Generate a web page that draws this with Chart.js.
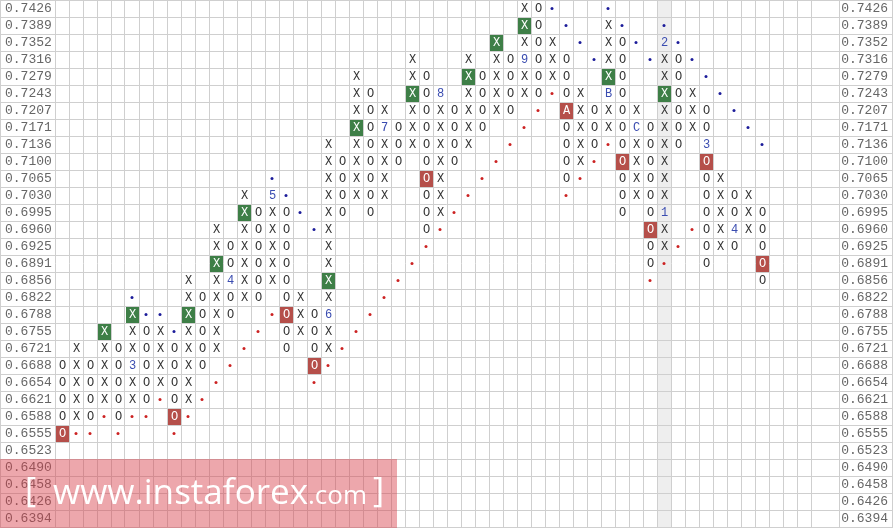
<!DOCTYPE html>
<html>
<head>
<meta charset="utf-8">
<script src="https://cdn.jsdelivr.net/npm/chart.js@4.4.1/dist/chart.umd.min.js"></script>
<style>
html,body{margin:0;padding:0;background:#fff;overflow:hidden}
canvas{display:block}
</style>
</head>
<body>
<canvas id="c" width="893" height="528"></canvas>
<script>
// ---- price levels (box values), top to bottom ----
const priceLabels = ['0.7426','0.7389','0.7352','0.7316','0.7279','0.7243','0.7207','0.7171','0.7136','0.7100',
  '0.7065','0.7030','0.6995','0.6960','0.6925','0.6891','0.6856','0.6822','0.6788','0.6755',
  '0.6721','0.6688','0.6654','0.6621','0.6588','0.6555','0.6523','0.6490','0.6458','0.6426','0.6394'];

// ---- point & figure columns ----
const colTypes = ['O','X','O','X','O','X','O','X','O','X','O','X','O','X','O','X','O','X','O','X',
  'O','X','O','X','O','X','O','X','O','X','O','X','O','X','O','X','O','X','O','X',
  'O','X','O','X','O','X','O','X','O','X','O'];
const colTop = ['0.6688','0.6721','0.6688','0.6755','0.6721','0.6788','0.6755','0.6755','0.6721','0.6856',
  '0.6822','0.6960','0.6925','0.7030','0.6995','0.7030','0.6995','0.6822','0.6788','0.7136',
  '0.7100','0.7279','0.7243','0.7207','0.7171','0.7316','0.7279','0.7243','0.7207','0.7316',
  '0.7279','0.7352','0.7316','0.7426','0.7426','0.7352','0.7316','0.7243','0.7207','0.7389',
  '0.7352','0.7207','0.7171','0.7352','0.7316','0.7243','0.7207','0.7065','0.7030','0.7030','0.6995'];
const colBottom = ['0.6555','0.6588','0.6588','0.6621','0.6588','0.6621','0.6621','0.6654','0.6588','0.6621',
  '0.6688','0.6721','0.6788','0.6822','0.6822','0.6856','0.6721','0.6755','0.6688','0.6721',
  '0.6995','0.7030','0.6995','0.7030','0.7100','0.7136','0.6960','0.6995','0.7100','0.7136',
  '0.7171','0.7207','0.7207','0.7243','0.7243','0.7279','0.7065','0.7100','0.7136','0.7171',
  '0.6995','0.7030','0.6891','0.6925','0.7136','0.7171','0.6891','0.6925','0.6925','0.6960','0.6856'];

// ---- month markers (replace a box) ----
const monthCols   = [5, 12, 15, 19, 23, 27, 33, 36, 39, 41, 43, 43, 46, 48];
const monthPrices = ['0.6688','0.6856','0.7030','0.6788','0.7171','0.7243','0.7316','0.7207','0.7243','0.7171','0.7352','0.6995','0.7136','0.6960'];
const monthTexts  = ['3','4','5','6','7','8','9','A','B','C','2','1','3','4'];

// ---- highlighted boxes ----
const greenBoxCols   = [3, 5, 9, 11, 13, 19, 21, 25, 29, 31, 33, 39, 43];
const greenBoxPrices = ['0.6755','0.6788','0.6788','0.6891','0.6995','0.6856','0.7171','0.7243','0.7279','0.7352','0.7389','0.7279','0.7243'];
const redBoxCols   = [0, 8, 16, 18, 26, 36, 40, 42, 46, 50];
const redBoxPrices = ['0.6555','0.6588','0.6788','0.6688','0.7065','0.7207','0.7100','0.6960','0.7100','0.6891'];

// ---- trend line dots ----
const redDotCols = [1,2,4,8,3,5,6,9,7,10,11,12,13,14,15,
  18,19,20,21,22,23,24,25,26,27,28,29,30,31,32,33,34,35,
  36,37,38,39,42,43,44,45];
const redDotPrices = ['0.6555','0.6555','0.6555','0.6555','0.6588','0.6588','0.6588','0.6588','0.6621','0.6621',
  '0.6654','0.6688','0.6721','0.6755','0.6788',
  '0.6654','0.6688','0.6721','0.6755','0.6788','0.6822','0.6856','0.6891','0.6925','0.6960','0.6995','0.7030','0.7065','0.7100','0.7136','0.7171','0.7207','0.7243',
  '0.7030','0.7065','0.7100','0.7136','0.6856','0.6891','0.6925','0.6960'];
const blueDotCols = [5,6,7,8,15,16,17,18,35,36,37,38,39,40,41,42,43,44,45,46,47,48,49,50];
const blueDotPrices = ['0.6822','0.6788','0.6788','0.6755','0.7065','0.7030','0.6995','0.6960',
  '0.7426','0.7389','0.7352','0.7316','0.7426','0.7389','0.7352','0.7316',
  '0.7389','0.7352','0.7316','0.7279','0.7243','0.7207','0.7171','0.7136'];

const highlightCol = 43;

// ---- build point lists ----
const key = (c, p) => c + '|' + p;
const monthMap = {};
monthCols.forEach((c, i) => { monthMap[key(c, monthPrices[i])] = monthTexts[i]; });
const boxed = {};
greenBoxCols.forEach((c, i) => { boxed[key(c, greenBoxPrices[i])] = true; });
redBoxCols.forEach((c, i) => { boxed[key(c, redBoxPrices[i])] = true; });

const plainX = [], plainO = [], monthPts = [];
colTypes.forEach((t, c) => {
  const a = priceLabels.indexOf(colTop[c]), b = priceLabels.indexOf(colBottom[c]);
  for (let r = a; r <= b; r++) {
    const p = priceLabels[r], k = key(c, p);
    if (boxed[k]) continue;
    if (monthMap[k]) { monthPts.push({x: c, y: p, t: monthMap[k]}); continue; }
    (t === 'X' ? plainX : plainO).push({x: c, y: p, t: t});
  }
});
const greenPts = greenBoxCols.map((c, i) => ({x: c, y: greenBoxPrices[i], t: monthMap[key(c, greenBoxPrices[i])] || colTypes[c]}));
const redPts = redBoxCols.map((c, i) => ({x: c, y: redBoxPrices[i], t: monthMap[key(c, redBoxPrices[i])] || colTypes[c]}));
const redDots = redDotCols.map((c, i) => ({x: c, y: redDotPrices[i]}));
const blueDots = blueDotCols.map((c, i) => ({x: c, y: blueDotPrices[i]}));

function boxCanvas(color) {
  const cv = document.createElement('canvas');
  cv.width = 14; cv.height = 17;
  const g = cv.getContext('2d');
  g.fillStyle = color;
  g.fillRect(1, 1, 13, 16);
  return cv;
}

const MARK_FONT = '12px "Liberation Mono", "DejaVu Sans Mono", monospace';
const GRID = '#cfcfcf';
const COL_W = 14, FIRST_CENTER = 62, AREA_W = 892;

function noPad(s) {
  s.paddingTop = 0; s.paddingBottom = 0; s.paddingLeft = 0; s.paddingRight = 0;
}

const glyphPlugin = {
  id: 'glyphs',
  beforeDraw(chart) {
    const {ctx, chartArea, scales} = chart;
    ctx.save();
    ctx.fillStyle = '#ffffff';
    ctx.fillRect(0, 0, chart.width, chart.height);
    const x0 = scales.x.getPixelForValue(highlightCol - 0.5);
    const x1 = scales.x.getPixelForValue(highlightCol + 0.5);
    ctx.fillStyle = '#eeeeee';
    ctx.fillRect(x0, chartArea.top, x1 - x0, chartArea.bottom - chartArea.top);
    ctx.restore();
  },
  afterDatasetsDraw(chart) {
    const ctx = chart.ctx;
    chart.data.datasets.forEach((ds, i) => {
      if (!ds.glyphColor) return;
      const meta = chart.getDatasetMeta(i);
      ctx.save();
      ctx.font = MARK_FONT;
      ctx.fillStyle = ds.glyphColor;
      ctx.textAlign = 'center';
      ctx.textBaseline = 'middle';
      meta.data.forEach((el, j) => { ctx.fillText(ds.data[j].t, el.x + 0.5, el.y + 0.5); });
      ctx.restore();
    });
  },
  afterDraw(chart) {
    const ctx = chart.ctx;
    ctx.save();
    ctx.fillStyle = 'rgba(214,60,70,0.45)';
    ctx.fillRect(0, 459, 397, 69);
    ctx.fillStyle = '#ffffff';
    ctx.textBaseline = 'alphabetic';
    ctx.textAlign = 'left';
    ctx.font = '34px "Open Sans", "Noto Sans", sans-serif';
    ctx.fillText('[', 25, 502);
    const w = ctx.measureText('www.instaforex').width;
    const size = 34 * 255 / w;
    ctx.font = size.toFixed(1) + 'px "Open Sans", "Noto Sans", sans-serif';
    ctx.fillText('www.instaforex', 53, 504);
    ctx.font = '26px "Open Sans", "Noto Sans", sans-serif';
    ctx.fillText('.com', 308, 504);
    const wc = ctx.measureText('.com').width;
    ctx.font = '34px "Open Sans", "Noto Sans", sans-serif';
    ctx.fillText(']', 308 + wc + 6, 502);
    ctx.restore();
  }
};

const xTicks = [];
for (let v = -0.5; v <= colTypes.length + 2.5; v += 1) xTicks.push(v);
xTicks.push(55.5);

new Chart(document.getElementById('c').getContext('2d'), {
  type: 'scatter',
  data: {
    datasets: [
      {label: 'X', data: plainX, pointRadius: 0, pointHoverRadius: 0, glyphColor: '#333333'},
      {label: 'O', data: plainO, pointRadius: 0, pointHoverRadius: 0, glyphColor: '#333333'},
      {label: 'Month', data: monthPts, pointRadius: 0, pointHoverRadius: 0, glyphColor: '#3a4cb0'},
      {label: 'Buy signal', data: greenPts, pointStyle: boxCanvas('#3e7f47'), pointRadius: 1, glyphColor: '#ffffff'},
      {label: 'Sell signal', data: redPts, pointStyle: boxCanvas('#b54f4a'), pointRadius: 1, glyphColor: '#ffffff'},
      {label: 'Support', data: redDots, pointStyle: 'circle', pointRadius: 1.5, pointBorderWidth: 0, pointBackgroundColor: '#cc2222'},
      {label: 'Resistance', data: blueDots, pointStyle: 'circle', pointRadius: 1.5, pointBorderWidth: 0, pointBackgroundColor: '#1c1c9a'}
    ]
  },
  options: {
    responsive: false,
    animation: false,
    events: [],
    layout: {autoPadding: false, padding: {left: 0, right: 1, top: 0, bottom: 1}},
    plugins: {legend: {display: false}, tooltip: {enabled: false}},
    scales: {
      x: {
        type: 'linear',
        position: 'bottom',
        min: -FIRST_CENTER / COL_W,
        max: (AREA_W - FIRST_CENTER) / COL_W,
        afterBuildTicks: (axis) => { axis.ticks = xTicks.filter(v => v < 54 || v > 55).map(v => ({value: v})); },
        grid: {color: GRID, drawTicks: false},
        border: {color: GRID},
        ticks: {display: false},
        afterFit: (s) => { s.height = 0; noPad(s); }
      },
      y: {
        type: 'category',
        labels: priceLabels,
        position: 'left',
        offset: true,
        grid: {color: GRID, offset: true, drawTicks: false},
        border: {color: GRID},
        ticks: {mirror: true, padding: 5, autoSkip: false, color: '#666666',
          font: {family: '"Liberation Mono", "DejaVu Sans Mono", monospace', size: 13}},
        afterFit: (s) => { s.width = 0; noPad(s); }
      },
      y2: {
        type: 'category',
        labels: priceLabels,
        position: 'right',
        offset: true,
        grid: {display: false, drawTicks: false},
        border: {color: GRID},
        ticks: {mirror: true, padding: -4, autoSkip: false, color: '#666666',
          font: {family: '"Liberation Mono", "DejaVu Sans Mono", monospace', size: 13}},
        afterFit: (s) => { s.width = 0; noPad(s); }
      }
    }
  },
  plugins: [glyphPlugin]
});
</script>
</body>
</html>
